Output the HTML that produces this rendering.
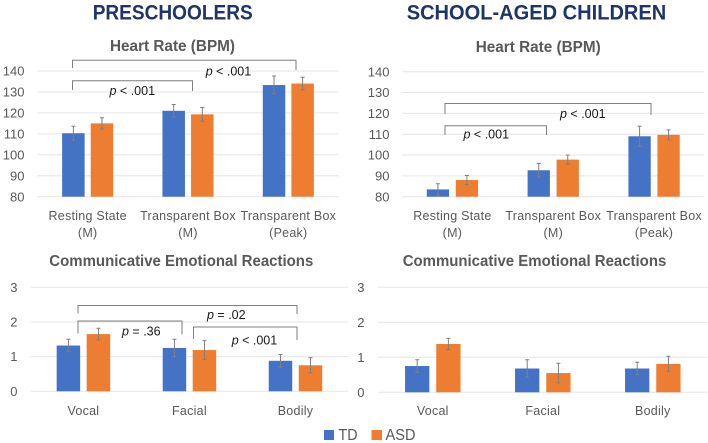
<!DOCTYPE html>
<html lang="en">
<head>
<meta charset="utf-8">
<title>Preschoolers and school-aged children charts</title>
<style>
html,body{margin:0;padding:0;background:#fff;width:708px;height:443px;overflow:hidden}
svg{display:block;font-family:"Liberation Sans",sans-serif;filter:blur(.35px)}
.head{font-weight:700;font-size:21px;fill:#1f3468}
.ct{font-weight:700;font-size:15.5px;fill:#595959}
.tick{font-size:13px;fill:#595959}
.cat{font-size:12.5px;letter-spacing:.25px;fill:#595959;text-anchor:middle}
.p{font-size:12.5px;fill:#1a1a1a}
.br{fill:none;stroke:#7f7f7f;stroke-width:1}
.leg{font-size:16px;fill:#595959}
</style>
</head>
<body>
<svg id="figure" width="708" height="443" viewBox="0 0 708 443" xmlns="http://www.w3.org/2000/svg">
  <text class="head" x="92.7" y="19.5" textLength="160" lengthAdjust="spacingAndGlyphs">PRESCHOOLERS</text>
  <text class="head" x="406.7" y="19.5" textLength="259.6" lengthAdjust="spacingAndGlyphs">SCHOOL-AGED CHILDREN</text>

  <text class="ct" x="110" y="51" textLength="125" lengthAdjust="spacingAndGlyphs">Heart Rate (BPM)</text>
  <text class="ct" x="475.7" y="52" textLength="125" lengthAdjust="spacingAndGlyphs">Heart Rate (BPM)</text>
  <text class="ct" x="49.3" y="266" textLength="264" lengthAdjust="spacingAndGlyphs">Communicative Emotional Reactions</text>
  <text class="ct" x="402.7" y="266" textLength="263.6" lengthAdjust="spacingAndGlyphs">Communicative Emotional Reactions</text>

  <g id="charts"></g>

  <g>
    <path class="br" d="M72.5 68V60.3H296V70"/>
    <path class="br" d="M72.5 90V80.7H192.5V91"/>
    <text class="p" x="205.7" y="75.5"><tspan font-style="italic">p</tspan> &lt; .001</text>
    <text class="p" x="109.5" y="95"><tspan font-style="italic">p</tspan> &lt; .001</text>
  </g>
  <g>
    <path class="br" d="M445 114V103.5H651V115"/>
    <path class="br" d="M445 135V125.7H546.5V135"/>
    <text class="p" x="560" y="118"><tspan font-style="italic">p</tspan> &lt; .001</text>
    <text class="p" x="463.5" y="138.5"><tspan font-style="italic">p</tspan> &lt; .001</text>
  </g>
  <g>
    <path class="br" d="M78 313.5V305.5H297V314"/>
    <path class="br" d="M78 333.5V321H182V334.5"/>
    <path class="br" d="M193.5 339V327H297V340"/>
    <text class="p" x="207" y="319"><tspan font-style="italic">p</tspan> = .02</text>
    <text class="p" x="122" y="335.5"><tspan font-style="italic">p</tspan> = .36</text>
    <text class="p" x="231.7" y="344.5"><tspan font-style="italic">p</tspan> &lt; .001</text>
  </g>

  <g>
    <rect x="324" y="430" width="10" height="10" fill="#4472c4"/>
    <text class="leg" x="338.5" y="440" textLength="19" lengthAdjust="spacingAndGlyphs">TD</text>
    <rect x="371.5" y="430" width="10.5" height="10" fill="#ed7d31"/>
    <text class="leg" x="385.5" y="440" textLength="30" lengthAdjust="spacingAndGlyphs">ASD</text>
  </g>
</svg>
<script>
var hrCategories = [["Resting State", "(M)"], ["Transparent Box", "(M)"], ["Transparent Box", "(Peak)"]];
var emotionCategories = [["Vocal"], ["Facial"], ["Bodily"]];
var hrTicks = [80, 90, 100, 110, 120, 130, 140];
var emotionTicks = [0, 1, 2, 3];

var preschoolHrTd = [110.3, 121, 133.3];
var preschoolHrTdErr = [3.3, 3, 4.3];
var preschoolHrAsd = [115, 119.3, 134];
var preschoolHrAsdErr = [2.7, 3.3, 3];

var schoolHrTd = [83.5, 92.7, 109];
var schoolHrTdErr = [2.7, 3.3, 4.8];
var schoolHrAsd = [88, 97.8, 109.7];
var schoolHrAsdErr = [2.2, 2.2, 2.4];

var preschoolEmotionTd = [1.32, 1.25, 0.88];
var preschoolEmotionTdErr = [0.18, 0.25, 0.18];
var preschoolEmotionAsd = [1.65, 1.19, 0.75];
var preschoolEmotionAsdErr = [0.17, 0.27, 0.22];

var schoolEmotionTd = [0.75, 0.68, 0.68];
var schoolEmotionTdErr = [0.18, 0.25, 0.18];
var schoolEmotionAsd = [1.38, 0.55, 0.81];
var schoolEmotionAsdErr = [0.16, 0.28, 0.22];

var NS = "http://www.w3.org/2000/svg";
var root = document.getElementById("charts");

function make(parent, tag, attrs, text) {
  var el = document.createElementNS(NS, tag);
  for (var k in attrs) { el.setAttribute(k, attrs[k]); }
  if (text !== undefined) { el.textContent = text; }
  parent.appendChild(el);
  return el;
}

function drawChart(opt) {
  var g = make(root, "g", {});
  
  

  var lo = opt.ticks[0];
  var hi = opt.ticks[opt.ticks.length - 1];
  function y(v) { return opt.yBase + (v - lo) / (hi - lo) * (opt.yTop - opt.yBase); }
  var step = (opt.right - opt.left) / opt.categories.length;
  function x(i) { return opt.left + step * (i + 0.5); }

  opt.ticks.forEach(function (t) {
    var line = make(g, "line", { x1: opt.left, x2: opt.right, y1: y(t), y2: y(t), stroke: "#e6e6e6", "stroke-width": 1 });
    
    
    var label = make(g, "text", { "class": "tick", x: opt.tickX, y: y(t) + 4.6, "text-anchor": "end" }, String(t));
    
    
  });

  opt.categories.forEach(function (lines, i) {
    lines.forEach(function (s, n) {
      var label = make(g, "text", { "class": "cat", x: x(i), y: opt.catY + n * 17 }, s);
      
      
    });
  });

  var series = [
    { vals: opt.td, errs: opt.tdErr, color: "#4472c4", sign: -1, label: "td" },
    { vals: opt.asd, errs: opt.asdErr, color: "#ed7d31", sign: 1, label: "asd" }
  ];
  series.forEach(function (s) {
    s.vals.forEach(function (v, i) {
      var cx = x(i) + s.sign * opt.offset;
      var bar = make(g, "rect", { x: cx - opt.barW / 2, y: y(v), width: opt.barW, height: opt.yBase - y(v), fill: s.color });
      
      
      var top = y(v + s.errs[i]);
      var bot = y(v - s.errs[i]);
      var err = make(g, "path", {
        d: "M" + (cx - 2) + " " + top + "H" + (cx + 2) + "M" + cx + " " + top + "V" + bot + "M" + (cx - 2) + " " + bot + "H" + (cx + 2),
        fill: "none", stroke: "#7f7f7f", "stroke-width": 1
      });
      
      
    });
  });
}

drawChart({ name: "preschool-heart-rate-chart", categories: hrCategories, ticks: hrTicks,
  td: preschoolHrTd, tdErr: preschoolHrTdErr, asd: preschoolHrAsd, asdErr: preschoolHrAsdErr,
  left: 37.5, right: 338.5, yBase: 196.7, yTop: 71, tickX: 24.5, catY: 220, barW: 22.5, offset: 14.3 });
drawChart({ name: "school-heart-rate-chart", categories: hrCategories, ticks: hrTicks,
  td: schoolHrTd, tdErr: schoolHrTdErr, asd: schoolHrAsd, asdErr: schoolHrAsdErr,
  left: 402, right: 704.5, yBase: 196.7, yTop: 71.7, tickX: 389.5, catY: 220, barW: 22.3, offset: 14.5 });
drawChart({ name: "preschool-emotion-chart", categories: emotionCategories, ticks: emotionTicks,
  td: preschoolEmotionTd, tdErr: preschoolEmotionTdErr, asd: preschoolEmotionAsd, asdErr: preschoolEmotionAsdErr,
  left: 30.4, right: 348.5, yBase: 391.3, yTop: 287.3, tickX: 17.5, catY: 415, barW: 23.5, offset: 15 });
drawChart({ name: "school-emotion-chart", categories: emotionCategories, ticks: emotionTicks,
  td: schoolEmotionTd, tdErr: schoolEmotionTdErr, asd: schoolEmotionAsd, asdErr: schoolEmotionAsdErr,
  left: 377.8, right: 707.8, yBase: 392.3, yTop: 287.3, tickX: 364.5, catY: 415, barW: 24.3, offset: 15.6 });
</script>
</body>
</html>
